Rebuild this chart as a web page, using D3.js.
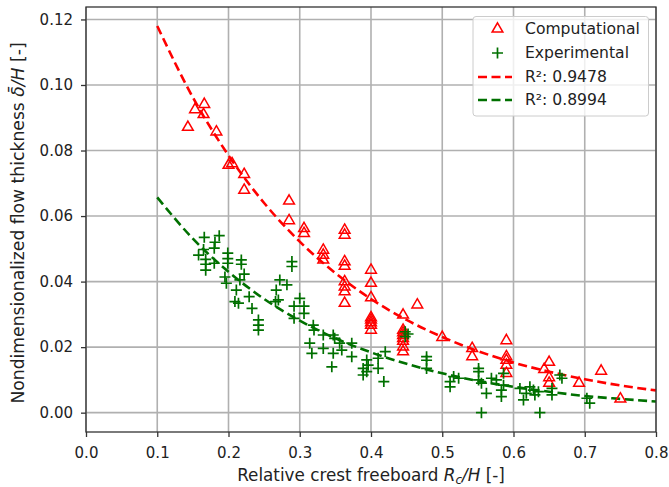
<!DOCTYPE html>
<html><head><meta charset="utf-8">
<script src="https://cdn.jsdelivr.net/npm/d3@7"></script>
<style>
body{margin:0;background:#fff;}
svg{font-family:"DejaVu Sans",sans-serif;}
</style></head>
<body><svg id="c" width="669" height="487"></svg>
<script>
// Computational (red triangles)
const compX = [0.143,0.153,0.166,0.165,0.183,0.200,0.205,0.222,0.222,0.285,0.285,0.306,0.306,0.333,0.333,0.333,
  0.363,0.363,0.363,0.363,0.363,0.363,0.363,0.363,0.400,0.400,0.400,0.400,0.400,0.400,0.400,0.400,
  0.445,0.445,0.445,0.445,0.445,0.445,0.445,0.445,0.465,0.500,0.542,0.542,0.590,0.590,0.590,0.590,0.590,
  0.643,0.650,0.650,0.650,0.692,0.723,0.750];
const compY = [0.0871,0.0925,0.0941,0.0910,0.0857,0.0755,0.0760,0.0727,0.0679,0.0646,0.0586,0.0562,0.0547,0.0496,0.0481,0.0466,
  0.0557,0.0542,0.0461,0.0447,0.0400,0.0384,0.0369,0.0334,0.0435,0.0395,0.0351,0.0290,0.0283,0.0275,0.0267,0.0252,
  0.0298,0.0252,0.0244,0.0236,0.0227,0.0218,0.0201,0.0186,0.0329,0.0230,0.0196,0.0171,0.0220,0.0171,0.0160,0.0145,0.0120,
  0.0132,0.0154,0.0107,0.0090,0.0090,0.0127,0.0042];
// Experimental (green plus)
const expX = [0.166,0.187,0.181,0.180,0.165,0.158,0.168,0.168,0.168,0.180,0.199,0.199,0.199,0.218,0.218,0.222,0.216,0.195,0.197,
  0.211,0.209,0.214,0.229,0.233,0.242,0.242,0.242,0.289,0.289,0.272,0.282,0.267,0.270,0.266,0.300,0.306,0.292,0.306,0.292,
  0.319,0.320,0.333,0.347,0.314,0.317,0.333,0.347,0.345,0.356,0.359,0.349,0.373,0.373,0.394,0.389,0.389,0.394,0.396,0.410,0.410,
  0.420,0.418,0.448,0.448,0.452,0.478,0.478,0.478,0.516,0.511,0.523,0.511,0.551,0.551,0.551,0.555,0.562,0.569,0.576,0.583,0.583,
  0.586,0.555,0.609,0.586,0.618,0.614,0.623,0.628,0.630,0.635,0.637,0.654,0.654,0.665,0.668,0.703,0.707];
const expY = [0.0535,0.0540,0.0520,0.0502,0.0498,0.0481,0.0468,0.0453,0.0435,0.0456,0.0487,0.0470,0.0456,0.0466,0.0453,0.0423,0.0405,0.0414,0.0395,
  0.0374,0.0339,0.0334,0.0354,0.0318,0.0283,0.0267,0.0252,0.0461,0.0446,0.0405,0.0390,0.0374,0.0344,0.0339,0.0349,0.0325,0.0325,0.0303,0.0288,
  0.0267,0.0252,0.0237,0.0237,0.0212,0.0181,0.0196,0.0181,0.0140,0.0212,0.0191,0.0227,0.0212,0.0171,0.0161,0.0135,0.0115,0.0125,0.0145,0.0166,0.0135,
  0.0186,0.0095,0.0247,0.0232,0.0240,0.0171,0.0160,0.0135,0.0110,0.0095,0.0105,0.0079,0.0135,0.0125,0.0100,0.0090,0.0059,0.0105,0.0100,0.0069,0.0049,
  0.0084,0.0000,0.0074,0.0120,0.0059,0.0039,0.0079,0.0069,0.0054,0.0064,0.0000,0.0074,0.0054,0.0115,0.0105,0.0044,0.0029];
// Fit curves
const fitX = [0.10,0.15,0.20,0.25,0.30,0.35,0.40,0.45,0.50,0.55,0.60,0.65,0.70,0.75,0.80];
const fitCompY = [0.1180,0.0962,0.0785,0.0640,0.0522,0.0426,0.0347,0.0283,0.0231,0.0188,0.0153,0.0125,0.0102,0.0083,0.0068];
const fitExpY = [0.0657,0.0531,0.0430,0.0347,0.0281,0.0227,0.0184,0.0149,0.0120,0.0097,0.0079,0.0064,0.0051,0.0042,0.0034];
const xTicks = [0,0.1,0.2,0.3,0.4,0.5,0.6,0.7,0.8];
const yTicks = [0,0.02,0.04,0.06,0.08,0.10,0.12];
const legendLabels = ["Computational","Experimental","R²: 0.9478","R²: 0.8994"];

const RED = "#ff0000", GREEN = "#007000", TXT = "#222";
const svg = d3.select("#c");
const L = 86, R = 656, T = 7, B = 432;
const x = d3.scaleLinear().domain([0,0.8]).range([L,R]);
const y = d3.scaleLinear().domain([-0.0059,0.1238]).range([B,T]);

// grid
const g = svg.append("g");
g.selectAll("line.vx").data(xTicks).join("line")
  .attr("x1",d=>x(d)).attr("x2",d=>x(d)).attr("y1",T).attr("y2",B)
  .attr("stroke","#b0b0b0").attr("stroke-width",1.6);
g.selectAll("line.hy").data(yTicks).join("line")
  .attr("x1",L).attr("x2",R).attr("y1",d=>y(d)).attr("y2",d=>y(d))
  .attr("stroke","#b0b0b0").attr("stroke-width",1.6);

// fits
const line = d3.line().curve(d3.curveMonotoneX);
svg.append("path").attr("d", line(fitX.map((v,i)=>[x(v), y(fitCompY[i])])))
  .attr("fill","none").attr("stroke",RED).attr("stroke-width",2.6).attr("stroke-dasharray","9,4.5");
svg.append("path").attr("d", line(fitX.map((v,i)=>[x(v), y(fitExpY[i])])))
  .attr("fill","none").attr("stroke",GREEN).attr("stroke-width",2.6).attr("stroke-dasharray","9,4.5");

// markers
const tri = d3.symbol().type(d3.symbolTriangle).size(50);
svg.append("g").selectAll("path").data(compX).join("path")
  .attr("d", tri)
  .attr("transform",(d,i)=>`translate(${x(d)},${y(compY[i])})`)
  .attr("fill","none").attr("stroke",RED).attr("stroke-width",1.5);
const s = 5.5;
svg.append("g").selectAll("path").data(expX).join("path")
  .attr("d", `M${-s},0H${s}M0,${-s}V${s}`)
  .attr("transform",(d,i)=>`translate(${x(d)},${y(expY[i])})`)
  .attr("fill","none").attr("stroke",GREEN).attr("stroke-width",1.7);

// axes
const ax = svg.append("g").attr("transform",`translate(0,${B})`)
  .call(d3.axisBottom(x).tickValues(xTicks).tickFormat(d3.format(".1f")).tickSize(5).tickPadding(10));
const ay = svg.append("g").attr("transform",`translate(${L},0)`)
  .call(d3.axisLeft(y).tickValues(yTicks).tickFormat(d3.format(".2f")).tickSize(5).tickPadding(8));
[ax,ay].forEach(a=>{
  a.select(".domain").remove();
  a.selectAll("line").attr("stroke","#333").attr("stroke-width",1.3);
  a.selectAll("text").attr("fill",TXT).style("font-size","15px").style("font-family","DejaVu Sans");
});
svg.append("rect").attr("x",L).attr("y",T).attr("width",R-L).attr("height",B-T)
  .attr("fill","none").attr("stroke","#333").attr("stroke-width",1.3);

// axis labels
const xl = svg.append("text").attr("x",(L+R)/2).attr("y",481).attr("text-anchor","middle")
  .attr("fill",TXT).style("font-size","16.8px");
xl.append("tspan").text("Relative crest freeboard ");
xl.append("tspan").attr("font-style","italic").text("R");
xl.append("tspan").attr("font-style","italic").attr("font-size","12px").attr("dy",2.5).text("c");
xl.append("tspan").attr("dy",-2.5).attr("font-style","italic").text("/H");
xl.append("tspan").text(" [-]");

const yl = svg.append("text").attr("transform",`translate(24,223) rotate(-90)`).attr("text-anchor","middle")
  .attr("fill",TXT).style("font-size","17.2px");
yl.append("tspan").text("Nondimensionalized flow thickness ");
yl.append("tspan").attr("font-style","italic").text("\u03B4\u0304/H");
yl.append("tspan").text(" [-]");

// legend
const lg = svg.append("g");
lg.append("rect").attr("x",473).attr("y",16.5).attr("width",175.5).attr("height",99.5).attr("rx",3)
  .attr("fill","#fff").attr("fill-opacity",0.8).attr("stroke","#cccccc").attr("stroke-width",1);
const rowY = [29,53,77,100];
lg.append("path").attr("d",d3.symbol().type(d3.symbolTriangle).size(50)())
  .attr("transform",`translate(497.5,${rowY[0]})`).attr("fill","none").attr("stroke",RED).attr("stroke-width",1.5);
lg.append("path").attr("d",`M${-s},0H${s}M0,${-s}V${s}`)
  .attr("transform",`translate(497.5,${rowY[1]})`).attr("stroke",GREEN).attr("stroke-width",1.7);
[[RED,rowY[2]],[GREEN,rowY[3]]].forEach(([c,yy])=>{
  lg.append("line").attr("x1",478).attr("x2",512).attr("y1",yy).attr("y2",yy)
    .attr("stroke",c).attr("stroke-width",2.6).attr("stroke-dasharray","9,4.5");
});
lg.selectAll("text").data(legendLabels).join("text")
  .attr("x",525).attr("y",(d,i)=>rowY[i]).attr("dy","0.35em")
  .attr("fill",TXT).style("font-size","15.6px").text(d=>d);
</script></body></html>
